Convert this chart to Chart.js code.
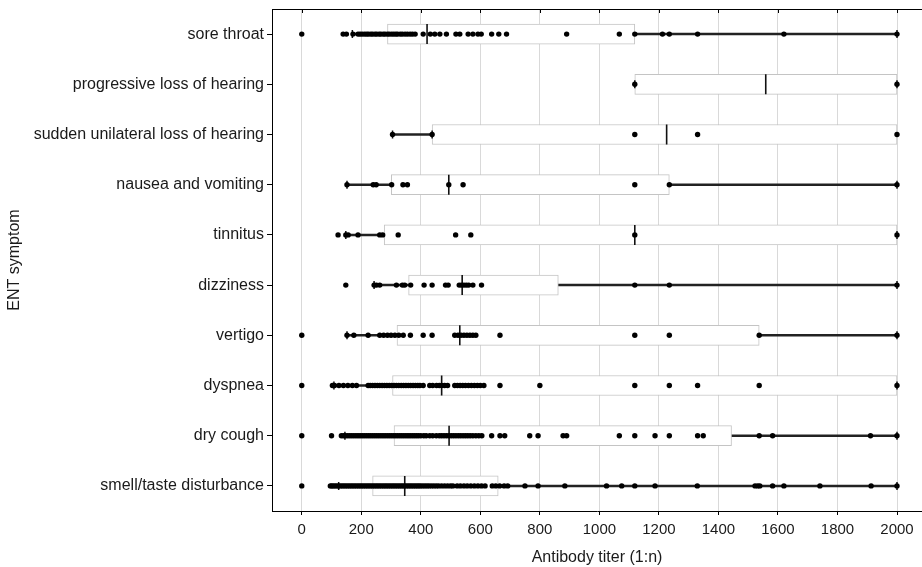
<!DOCTYPE html>
<html lang="en">

<head>
  <meta charset="UTF-8">
  <title>Antibody titer by ENT symptom</title>
  <script src="https://cdn.jsdelivr.net/npm/chart.js"></script>
  <style>
    html, body { margin: 0; padding: 0; background: #fff; overflow: hidden; }
    #titerChart { display: block; }
  </style>
</head>

<body>
  <canvas id="titerChart" width="922" height="567"></canvas>

  <script>
    // categories, top to bottom
    const categories = [
      "sore throat",
      "progressive loss of hearing",
      "sudden unilateral loss of hearing",
      "nausea and vomiting",
      "tinnitus",
      "dizziness",
      "vertigo",
      "dyspnea",
      "dry cough",
      "smell/taste disturbance"
    ];

    // box plot stats
    const whiskerLo = [170, 1119, 305, 152, 148, 243, 152, 108, 145, 124];
    const q1 = [288, 1119, 438, 301, 277, 359, 320, 305, 310, 238];
    const median = [421, 1559, 1226, 494, 1119, 539, 531, 470, 495, 346];
    const q3 = [1119, 2000, 2000, 1235, 2000, 862, 1537, 2000, 1444, 660];
    const whiskerHi = [2000, 2000, 438, 2000, 2000, 2000, 2000, 2000, 2000, 2000];

    // individual observations per symptom
    const dotsSoreThroat = [0, 139, 150, 172, 189, 196, 203, 211, 218, 224, 232, 238, 246, 252, 260, 266, 274, 280, 288, 294, 302, 309, 316, 322, 331, 338, 347, 355, 364, 372, 381, 408, 432, 447, 464, 486, 518, 531, 559, 575, 592, 603, 638, 662, 688, 890, 1067, 1119, 1212, 1235, 1330, 1620, 2000];
    const dotsProgressive = [1119, 2000];
    const dotsSudden = [305, 438, 1119, 1330, 2000];
    const dotsNausea = [152, 240, 250, 302, 340, 355, 494, 542, 1119, 1235, 2000];
    const dotsTinnitus = [122, 148, 156, 189, 262, 272, 324, 517, 568, 1119, 2000];
    const dotsDizziness = [148, 243, 251, 262, 318, 338, 346, 366, 411, 438, 483, 492, 529, 537, 545, 553, 561, 575, 604, 1119, 1235, 2000];
    const dotsVertigo = [0, 152, 175, 223, 262, 275, 288, 300, 313, 326, 341, 365, 408, 438, 514, 525, 535, 545, 555, 565, 575, 585, 666, 1119, 1235, 1537, 2000];
    const dotsDyspnea = [0, 103, 110, 125, 140, 155, 170, 184, 223, 230, 238, 246, 254, 262, 270, 278, 286, 294, 302, 310, 318, 326, 334, 342, 350, 358, 366, 374, 382, 390, 397, 408, 430, 440, 453, 462, 470, 480, 490, 514, 523, 532, 541, 550, 560, 570, 580, 590, 600, 612, 666, 800, 1119, 1235, 1330, 1537, 2000];
    const dotsDryCough = [0, 100, 133, 140, 147, 154, 161, 168, 175, 182, 189, 196, 203, 210, 217, 224, 231, 238, 245, 252, 259, 266, 273, 280, 287, 294, 301, 308, 315, 322, 329, 336, 343, 350, 357, 364, 371, 378, 385, 392, 400, 410, 418, 430, 440, 452, 462, 470, 478, 486, 494, 502, 510, 518, 526, 534, 542, 550, 558, 566, 575, 585, 595, 605, 638, 666, 682, 766, 794, 878, 890, 1067, 1119, 1187, 1235, 1330, 1349, 1537, 1582, 1911, 2000];
    const dotsSmellTaste = [0, 96, 101, 106, 112, 118, 124, 130, 136, 142, 148, 154, 160, 166, 172, 178, 184, 190, 196, 202, 208, 214, 220, 226, 232, 238, 244, 250, 256, 262, 268, 274, 280, 286, 292, 298, 304, 310, 316, 322, 328, 334, 340, 346, 352, 358, 364, 370, 376, 382, 388, 394, 400, 407, 414, 421, 428, 436, 444, 452, 460, 470, 480, 490, 500, 508, 522, 533, 545, 556, 568, 580, 592, 604, 616, 640, 652, 665, 680, 692, 750, 794, 884, 1024, 1075, 1119, 1187, 1329, 1523, 1532, 1539, 1582, 1620, 1741, 1913, 2000];

    const dotLists = [dotsSoreThroat, dotsProgressive, dotsSudden, dotsNausea, dotsTinnitus,
      dotsDizziness, dotsVertigo, dotsDyspnea, dotsDryCough, dotsSmellTaste];

    const xTicks = [0, 200, 400, 600, 800, 1000, 1200, 1400, 1600, 1800, 2000];
    const xMin = -100;
    const xMax = 2084;

    const fontFamily = "'Liberation Sans', Arial, sans-serif";
    const labelFont = { family: fontFamily, size: 16 };
    const tickFont = { family: fontFamily, size: 15 };

    // build point lists for the scatter layers
    const dotPoints = [];
    dotLists.forEach((list, i) => list.forEach(v => dotPoints.push({ x: v, y: categories[i] })));
    const medianPoints = median.map((v, i) => ({ x: v, y: categories[i] }));
    const capPoints = [];
    categories.forEach((c, i) => {
      capPoints.push({ x: whiskerLo[i], y: c });
      capPoints.push({ x: whiskerHi[i], y: c });
    });

    // stop the scales from reserving extra room for half tick labels
    const noLabelPadding = {
      id: "noLabelPadding",
      beforeLayout(chart) {
        Object.values(chart.scales).forEach(s => {
          s._calculatePadding = function () {
            this.paddingLeft = 0;
            this.paddingRight = 0;
            this.paddingTop = 0;
            this.paddingBottom = 0;
          };
        });
      }
    };

    // top frame line with small inward ticks
    const topFrame = {
      id: "topFrame",
      afterDatasetsDraw(chart) {
        const { ctx, chartArea, scales } = chart;
        ctx.save();
        ctx.strokeStyle = "#000";
        ctx.lineWidth = 1;
        ctx.beginPath();
        ctx.moveTo(chartArea.left, chartArea.top + 0.5);
        ctx.lineTo(chartArea.right, chartArea.top + 0.5);
        xTicks.forEach(t => {
          const px = Math.round(scales.x.getPixelForValue(t)) + 0.5;
          ctx.moveTo(px, chartArea.top);
          ctx.lineTo(px, chartArea.top + 4);
        });
        ctx.stroke();
        ctx.restore();
      }
    };

    new Chart(document.getElementById("titerChart"), {
      type: "bar",
      data: {
        labels: categories,
        datasets: [
          {
            type: "scatter",
            data: dotPoints,
            pointRadius: 2.7,
            pointBackgroundColor: "#000",
            pointBorderWidth: 0,
            order: 0
          },
          {
            type: "scatter",
            data: medianPoints,
            pointStyle: "line",
            pointRotation: 90,
            pointRadius: 10,
            pointBorderColor: "#111",
            pointBorderWidth: 1.6,
            order: 1
          },
          {
            type: "scatter",
            data: capPoints,
            pointStyle: "line",
            pointRotation: 90,
            pointRadius: 4,
            pointBorderColor: "#111",
            pointBorderWidth: 1.5,
            order: 2
          },
          {
            data: q1.map((v, i) => [v, q3[i]]),
            backgroundColor: "#fff",
            borderColor: "#c4c4c4",
            borderWidth: 1,
            borderSkipped: false,
            barThickness: 20,
            grouped: false,
            order: 3
          },
          {
            data: whiskerLo.map((v, i) => [v, q1[i]]),
            backgroundColor: "#222",
            borderWidth: 0,
            barThickness: 1.8,
            grouped: false,
            order: 4
          },
          {
            data: q3.map((v, i) => [v, whiskerHi[i]]),
            backgroundColor: "#222",
            borderWidth: 0,
            barThickness: 1.8,
            grouped: false,
            order: 4
          }
        ]
      },
      options: {
        indexAxis: "y",
        responsive: false,
        animation: false,
        events: [],
        layout: { autoPadding: false, padding: { left: 0, top: 9, right: 0, bottom: 0 } },
        plugins: {
          legend: { display: false },
          tooltip: { enabled: false }
        },
        scales: {
          x: {
            type: "linear",
            min: xMin,
            max: xMax,
            afterBuildTicks: scale => { scale.ticks = xTicks.map(v => ({ value: v })); },
            afterFit: scale => { scale.height = 56; },
            grid: { color: "#d9d9d9", tickColor: "#000", tickLength: 4 },
            border: { color: "#000", width: 1 },
            ticks: { color: "#1a1a1a", font: tickFont, padding: 6, maxRotation: 0, callback: v => String(v) },
            title: { display: true, text: "Antibody titer (1:n)", color: "#1a1a1a", font: labelFont, padding: { top: 0, bottom: 0 } }
          },
          y: {
            type: "category",
            labels: categories,
            offset: true,
            afterFit: scale => { scale.width = 272; },
            grid: { drawOnChartArea: false, offset: false, tickColor: "#000", tickLength: 5 },
            border: { color: "#000", width: 1 },
            ticks: { color: "#1a1a1a", font: labelFont, padding: 3 },
            title: { display: true, text: "ENT symptom", color: "#1a1a1a", font: labelFont, padding: { top: 5, bottom: 0 } }
          }
        }
      },
      plugins: [noLabelPadding, topFrame]
    });
  </script>
</body>

</html>
